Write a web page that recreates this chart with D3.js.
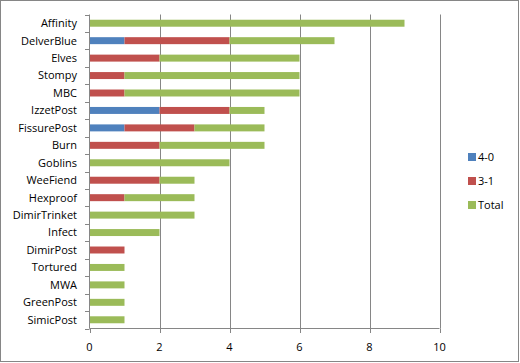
<!DOCTYPE html>
<html>
<head>
<meta charset="utf-8">
<script src="https://cdn.jsdelivr.net/npm/d3@7"></script>
<style>
  body { margin: 0; background: #fff; }
  svg text { font-family: "Open Sans", sans-serif; font-size: 11px; fill: #000; }
</style>
</head>
<body>
<script>
(function() {

var decks  = ["Affinity", "DelverBlue", "Elves", "Stompy", "MBC", "IzzetPost",
              "FissurePost", "Burn", "Goblins", "WeeFiend", "Hexproof",
              "DimirTrinket", "Infect", "DimirPost", "Tortured", "MWA",
              "GreenPost", "SimicPost"];
var wins40 = [0, 1, 0, 0, 0, 2, 1, 0, 0, 0, 0, 0, 0, 0, 0, 0, 0, 0];
var wins31 = [0, 3, 2, 1, 1, 2, 2, 2, 0, 2, 1, 0, 0, 1, 0, 0, 0, 0];
var total  = [9, 3, 4, 5, 5, 1, 2, 3, 4, 1, 2, 3, 2, 0, 1, 1, 1, 1];
var series = ["4-0", "3-1", "Total"];
var xTicks = [0, 2, 4, 6, 8, 10];

var width = 520, height = 363,
    colors = ["#4F81BD", "#C0504D", "#9BBB59"],
    grey = "#868686";

var rows = decks.map(function(d, i) {
  return { deck: d, "4-0": wins40[i], "3-1": wins31[i], "Total": total[i] };
});
var stacked = d3.stack().keys(series)(rows);

var x = d3.scaleLinear().domain([0, 10]).range([89.5, 439.5]);
var y = d3.scaleBand().domain(decks).range([14.5, 328.5]).paddingInner(0.6).paddingOuter(0.3);
var yb = d3.scaleBand().domain(decks).range([14.5, 328.5]); // category borders

var svg = d3.select("body").append("svg")
  .attr("width", width)
  .attr("height", height);

svg.append("rect")
  .attr("x", 0.5).attr("y", 0.5)
  .attr("width", width - 2).attr("height", height - 2)
  .attr("fill", "#fff").attr("stroke", grey);

// vertical gridlines
svg.append("g").selectAll("line")
  .data(xTicks.slice(1))
  .enter().append("line")
    .attr("x1", function(d) { return Math.round(x(d)) + 0.5; })
    .attr("x2", function(d) { return Math.round(x(d)) + 0.5; })
    .attr("y1", 14.5).attr("y2", 328.5)
    .attr("stroke", grey);

// bars
svg.append("g").selectAll("g")
  .data(stacked)
  .enter().append("g")
    .attr("fill", function(d, i) { return colors[i]; })
  .selectAll("rect")
  .data(function(d) { return d; })
  .enter().append("rect")
    .attr("x", function(d) { return x(d[0]); })
    .attr("y", function(d) { return y(d.data.deck); })
    .attr("width", function(d) { return x(d[1]) - x(d[0]); })
    .attr("height", y.bandwidth());

// left axis
var gy = svg.append("g");
gy.append("line")
  .attr("x1", 89.5).attr("x2", 89.5).attr("y1", 14.5).attr("y2", 328.5)
  .attr("stroke", grey);
gy.selectAll("line.tick")
  .data(decks.concat([null]))
  .enter().append("line")
    .attr("class", "tick")
    .attr("x1", 85).attr("x2", 89.5)
    .attr("y1", function(d, i) { return Math.round(14.5 + i * yb.step()) + 0.5; })
    .attr("y2", function(d, i) { return Math.round(14.5 + i * yb.step()) + 0.5; })
    .attr("stroke", grey);
gy.selectAll("text")
  .data(decks)
  .enter().append("text")
    .attr("x", 77)
    .attr("y", function(d) { return yb(d) + yb.bandwidth() / 2; })
    .attr("dy", "0.35em")
    .attr("text-anchor", "end")
    .text(function(d) { return d; });

// bottom axis
var gx = svg.append("g");
gx.append("line")
  .attr("x1", 89.5).attr("x2", 439.5).attr("y1", 328.5).attr("y2", 328.5)
  .attr("stroke", grey);
gx.selectAll("line.tick")
  .data(xTicks)
  .enter().append("line")
    .attr("class", "tick")
    .attr("x1", function(d) { return Math.round(x(d)) + 0.5; })
    .attr("x2", function(d) { return Math.round(x(d)) + 0.5; })
    .attr("y1", 328.5).attr("y2", 333)
    .attr("stroke", grey);
gx.selectAll("text")
  .data(xTicks)
  .enter().append("text")
    .attr("x", function(d) { return x(d); })
    .attr("y", 347)
    .attr("dy", "0.35em")
    .attr("text-anchor", "middle")
    .text(function(d) { return d; });

// legend
var lg = svg.append("g").selectAll("g")
  .data(series)
  .enter().append("g")
    .attr("transform", function(d, i) { return "translate(468," + (157 + i * 24) + ")"; });
lg.append("rect")
  .attr("x", 0).attr("y", -4)
  .attr("width", 8).attr("height", 8)
  .attr("fill", function(d, i) { return colors[i]; });
lg.append("text")
  .attr("x", 10).attr("y", 0)
  .attr("dy", "0.35em")
  .text(function(d) { return d; });

})();
</script>
</body>
</html>
